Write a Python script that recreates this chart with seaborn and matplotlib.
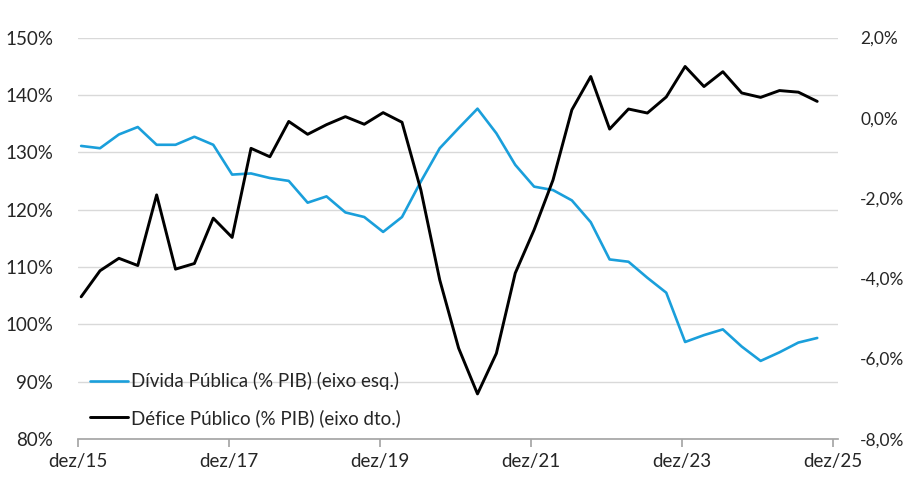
import matplotlib
matplotlib.use('Agg')
import matplotlib.pyplot as plt
import matplotlib.ticker as mticker
import numpy as np
import pandas as pd
import seaborn as sns

# quarterly data, dez/15 .. set/25
divida = [131.1, 130.7, 133.1, 134.4, 131.3, 131.3, 132.7, 131.3,
          126.1, 126.3, 125.5, 125.0, 121.2, 122.3, 119.5, 118.7,
          116.1, 118.7, 124.9, 130.7, 134.2, 137.6, 133.3, 127.8,
          124.0, 123.4, 121.6, 117.8, 111.3, 110.9, 108.1, 105.5,
          96.9, 98.1, 99.1, 96.1, 93.6, 95.1, 96.8, 97.6]
defice = [-4.46, -3.81, -3.50, -3.68, -1.92, -3.77, -3.63, -2.50,
          -2.98, -0.76, -0.97, -0.09, -0.41, -0.17, 0.03, -0.16,
          0.13, -0.11, -1.80, -4.04, -5.74, -6.88, -5.87, -3.87,
          -2.79, -1.55, 0.20, 1.03, -0.28, 0.22, 0.12, 0.52,
          1.28, 0.78, 1.15, 0.62, 0.51, 0.68, 0.64, 0.41]
tick_labels = ['dez/15', 'dez/17', 'dez/19', 'dez/21', 'dez/23', 'dez/25']
left_ticks = [80, 90, 100, 110, 120, 130, 140, 150]
right_ticks = [-8, -6, -4, -2, 0, 2]

BLUE = '#1a9fdb'
TXT = '#262626'
FS = 13.5

# months since dez/15
df = pd.DataFrame({'mes': np.arange(len(divida)) * 3,
                   'divida': divida, 'defice': defice})

sns.set_theme(style='white')
plt.rcParams['font.family'] = ['Lato', 'DejaVu Sans']

fig = plt.figure(figsize=(9.08, 4.92), dpi=100)
ax = fig.add_axes([0.0859, 0.108, 0.837, 0.8156])
ax2 = ax.twinx()

sns.lineplot(data=df, x='mes', y='divida', ax=ax, color=BLUE, lw=1.9,
             label='Dívida Pública (% PIB) (eixo esq.)', legend=False)
sns.lineplot(data=df, x='mes', y='defice', ax=ax2, color='black', lw=2.1,
             label='Défice Público (% PIB) (eixo dto.)', legend=False)

ax.set_xlim(-0.5, 120.3)
ax.set_ylim(80, 150)
ax2.set_ylim(-8, 2)
ax.set_xticks([24 * i - 0.5 for i in range(len(tick_labels))])
ax.set_xticklabels(tick_labels)
ax.set_yticks(left_ticks)
ax.yaxis.set_major_formatter(mticker.FuncFormatter(lambda v, p: f'{v:.0f}%'))
ax2.set_yticks(right_ticks)
ax2.yaxis.set_major_formatter(
    mticker.FuncFormatter(lambda v, p: f'{v:.1f}%'.replace('.', ',')))

ax.grid(axis='y', color='#d9d9d9', lw=1)
ax.set_axisbelow(True)
ax.set_xlabel('')
ax.set_ylabel('')
ax2.set_ylabel('')

for a in (ax, ax2):
    for s in a.spines.values():
        s.set_visible(False)
ax.spines['bottom'].set_visible(True)
ax.spines['bottom'].set_color('#a6a6a6')

ax.tick_params(axis='x', bottom=True, length=6, color='#a6a6a6',
               labelsize=FS, labelcolor=TXT, pad=4)
ax.tick_params(axis='y', left=False, labelsize=FS, labelcolor=TXT, pad=12)
ax2.tick_params(axis='y', right=False, labelsize=12.5, labelcolor=TXT, pad=10)

h1, l1 = ax.get_legend_handles_labels()
h2, l2 = ax2.get_legend_handles_labels()
leg = ax2.legend(h1 + h2, l1 + l2, loc='lower left', bbox_to_anchor=(-0.006, -0.012),
                 frameon=False, fontsize=FS, labelspacing=1.0,
                 handlelength=2.0, handletextpad=0.15)
for t in leg.get_texts():
    t.set_color(TXT)

fig.savefig('out.png', dpi=100)
